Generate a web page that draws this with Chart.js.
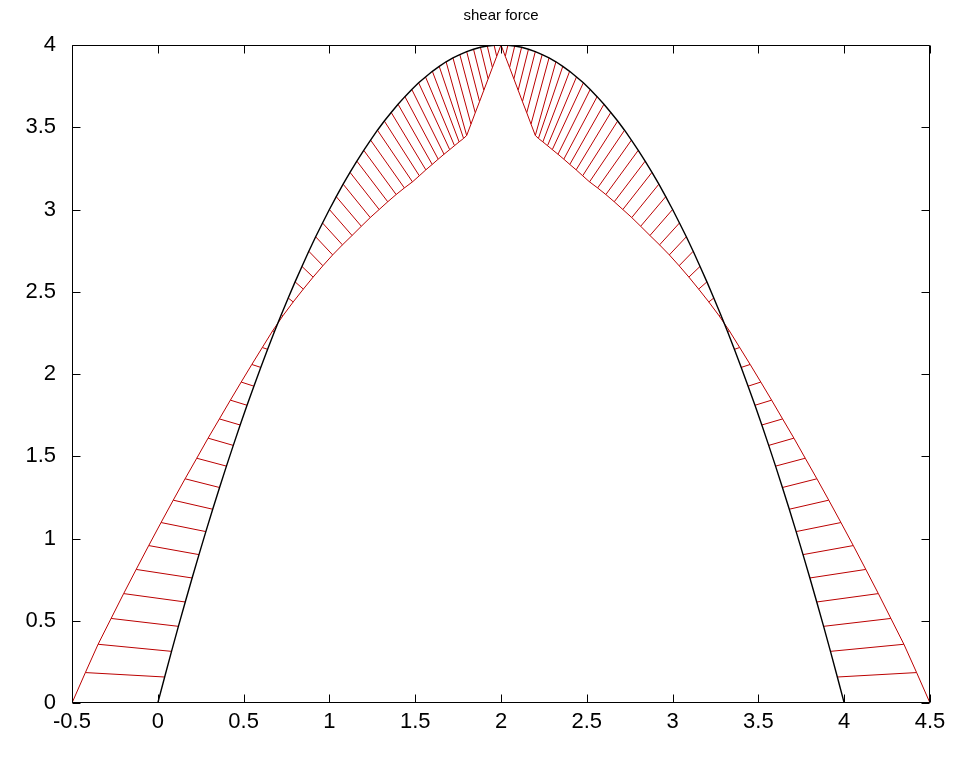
<!DOCTYPE html>
<html>
<head>
<meta charset="utf-8">
<script src="https://cdn.jsdelivr.net/npm/chart.js@4.4.1/dist/chart.umd.min.js"></script>
<style>
  html, body { margin: 0; padding: 0; background: #ffffff; }
  #wrap { width: 961px; height: 770px; }
</style>
</head>
<body>
<div id="wrap"><canvas id="c" width="961" height="770"></canvas></div>
<script>
// Title, tick positions and tick labels
const titleText = 'shear force';
const xTickValues = [-0.5, 0, 0.5, 1, 1.5, 2, 2.5, 3, 3.5, 4, 4.5];
const xTickLabels = ['-0.5', '0', '0.5', '1', '1.5', '2', '2.5', '3', '3.5', '4', '4.5'];
const yTickValues = [0, 0.5, 1, 1.5, 2, 2.5, 3, 3.5, 4];
const yTickLabels = ['0', '0.5', '1', '1.5', '2', '2.5', '3', '3.5', '4'];

// Arch axis (black curve): sample points along the arch
const archX = [
  0, 0.04, 0.08, 0.12, 0.16, 0.20, 0.24, 0.28, 0.32, 0.36, 0.40, 0.44, 0.48, 0.52, 0.56, 0.60, 0.64,
  0.68, 0.72, 0.76, 0.80, 0.84, 0.88, 0.92, 0.96, 1.00, 1.04, 1.08, 1.12, 1.16, 1.20, 1.24, 1.28,
  1.32, 1.36, 1.40, 1.44, 1.48, 1.52, 1.56, 1.60, 1.64, 1.68, 1.72, 1.76, 1.80, 1.84, 1.88, 1.92,
  1.96, 2.00,
  2.04, 2.08, 2.12, 2.16, 2.20, 2.24, 2.28, 2.32, 2.36, 2.40, 2.44, 2.48, 2.52, 2.56, 2.60, 2.64,
  2.68, 2.72, 2.76, 2.80, 2.84, 2.88, 2.92, 2.96, 3.00, 3.04, 3.08, 3.12, 3.16, 3.20, 3.24, 3.28,
  3.32, 3.36, 3.40, 3.44, 3.48, 3.52, 3.56, 3.60, 3.64, 3.68, 3.72, 3.76, 3.80, 3.84, 3.88, 3.92,
  3.96, 4.00
];
const archY = [
  0, 0.158, 0.314, 0.466, 0.614, 0.760, 0.902, 1.042, 1.178, 1.310, 1.440, 1.566, 1.690, 1.810,
  1.926, 2.040, 2.150, 2.258, 2.362, 2.462, 2.560, 2.654, 2.746, 2.834, 2.918, 3.000, 3.078, 3.154,
  3.226, 3.294, 3.360, 3.422, 3.482, 3.538, 3.590, 3.640, 3.686, 3.730, 3.770, 3.806, 3.840, 3.870,
  3.898, 3.922, 3.942, 3.960, 3.974, 3.986, 3.994, 3.998, 4.000,
  3.998, 3.994, 3.986, 3.974, 3.960, 3.942, 3.922, 3.898, 3.870, 3.840, 3.806, 3.770, 3.730, 3.686,
  3.640, 3.590, 3.538, 3.482, 3.422, 3.360, 3.294, 3.226, 3.154, 3.078, 3.000, 2.918, 2.834, 2.746,
  2.654, 2.560, 2.462, 2.362, 2.258, 2.150, 2.040, 1.926, 1.810, 1.690, 1.566, 1.440, 1.310, 1.178,
  1.042, 0.902, 0.760, 0.614, 0.466, 0.314, 0.158, 0
];

// Shear force diagram (red curve): one point per arch sample
const shearX = [
  -0.500, -0.422, -0.348, -0.272, -0.199, -0.126, -0.053, 0.019, 0.090, 0.159, 0.227, 0.293, 0.359,
  0.423, 0.486, 0.548, 0.609, 0.669, 0.729, 0.789, 0.848, 0.905, 0.962, 1.019, 1.076, 1.132, 1.186,
  1.238, 1.290, 1.340, 1.389, 1.437, 1.484, 1.524, 1.562, 1.599, 1.634, 1.668, 1.701, 1.729, 1.756,
  1.782, 1.800, 1.825, 1.850, 1.875, 1.900, 1.925, 1.950, 1.975, 2.000,
  2.025, 2.050, 2.075, 2.100, 2.125, 2.150, 2.175, 2.200, 2.218, 2.244, 2.271, 2.299, 2.332, 2.366,
  2.401, 2.438, 2.476, 2.516, 2.563, 2.611, 2.660, 2.710, 2.762, 2.814, 2.868, 2.924, 2.981, 3.038,
  3.095, 3.152, 3.211, 3.271, 3.331, 3.391, 3.452, 3.514, 3.577, 3.641, 3.707, 3.773, 3.841, 3.910,
  3.981, 4.053, 4.126, 4.199, 4.272, 4.348, 4.422, 4.500
];
const shearY = [
  0, 0.185, 0.357, 0.514, 0.665, 0.812, 0.957, 1.097, 1.233, 1.363, 1.488, 1.610, 1.727, 1.841,
  1.951, 2.058, 2.161, 2.262, 2.354, 2.438, 2.516, 2.589, 2.658, 2.724, 2.785, 2.842, 2.898, 2.951,
  3.000, 3.047, 3.091, 3.131, 3.168, 3.205, 3.241, 3.274, 3.306, 3.336, 3.364, 3.388, 3.411, 3.432,
  3.450, 3.519, 3.588, 3.656, 3.725, 3.794, 3.863, 3.931, 4.000,
  3.931, 3.863, 3.794, 3.725, 3.656, 3.588, 3.519, 3.450, 3.432, 3.411, 3.388, 3.364, 3.336, 3.306,
  3.274, 3.241, 3.205, 3.168, 3.131, 3.091, 3.047, 3.000, 2.951, 2.898, 2.842, 2.785, 2.724, 2.658,
  2.589, 2.516, 2.438, 2.354, 2.262, 2.161, 2.058, 1.951, 1.841, 1.727, 1.610, 1.488, 1.363, 1.233,
  1.097, 0.957, 0.812, 0.665, 0.514, 0.357, 0.185, 0
];

// Hatch: a segment from every arch point to its shear point, separated by gaps
const hatch = [];
for (let i = 0; i < archX.length; i++) {
  hatch.push({ x: archX[i], y: archY[i] });
  hatch.push({ x: shearX[i], y: shearY[i] });
  hatch.push({ x: archX[i], y: null });
}
const shearLine = shearX.map((x, i) => ({ x, y: shearY[i] }));
const archLine = archX.map((x, i) => ({ x, y: archY[i] }));

const RED = '#bb0000';
const FONT = 'Liberation Sans, Arial, Helvetica, sans-serif';

// Axes box with inward tick marks on all four sides
const boxTicks = {
  id: 'boxTicks',
  afterDraw(chart) {
    const { ctx, chartArea: a, scales } = chart;
    const L = Math.round(a.left) + 0.5, R = Math.round(a.right) - 0.5;
    const T = Math.round(a.top) + 0.5, B = Math.round(a.bottom) - 0.5;
    const len = 8;
    ctx.save();
    ctx.strokeStyle = '#000';
    ctx.lineWidth = 1;
    ctx.beginPath();
    ctx.rect(L, T, R - L, B - T);
    xTickValues.forEach(v => {
      const px = Math.round(scales.x.getPixelForValue(v)) + 0.5;
      ctx.moveTo(px, B); ctx.lineTo(px, B - len);
      ctx.moveTo(px, T); ctx.lineTo(px, T + len);
    });
    yTickValues.forEach(v => {
      const py = Math.round(scales.y.getPixelForValue(v)) + 0.5;
      ctx.moveTo(L, py); ctx.lineTo(L + len, py);
      ctx.moveTo(R, py); ctx.lineTo(R - len, py);
    });
    ctx.stroke();
    ctx.restore();
  }
};

new Chart(document.getElementById('c'), {
  type: 'scatter',
  data: {
    datasets: [
      { data: hatch, showLine: true, spanGaps: false, borderColor: RED, borderWidth: 1,
        pointRadius: 0, tension: 0, order: 3 },
      { data: shearLine, showLine: true, borderColor: RED, borderWidth: 1,
        pointRadius: 0, tension: 0, order: 2 },
      { data: archLine, showLine: true, borderColor: '#000', borderWidth: 1.4,
        pointRadius: 0, tension: 0, order: 1 }
    ]
  },
  options: {
    responsive: false,
    animation: false,
    devicePixelRatio: 1,
    layout: { padding: { left: 0, right: 31, top: 0, bottom: 0 } },
    plugins: {
      legend: { display: false },
      tooltip: { enabled: false },
      title: {
        display: true,
        text: titleText,
        fullSize: false,
        color: '#000',
        font: { family: FONT, size: 15, weight: 'normal', lineHeight: 1.2 },
        padding: { top: 7, bottom: 20 }
      }
    },
    scales: {
      x: {
        type: 'linear',
        min: -0.5, max: 4.5,
        grid: { display: false, drawTicks: false },
        border: { display: false },
        afterBuildTicks: s => { s.ticks = xTickValues.map(v => ({ value: v })); },
        afterFit: s => { s.height = 67; },
        ticks: { autoSkip: false, maxRotation: 0, padding: 6, color: '#000',
                 font: { family: FONT, size: 22 },
                 callback: (v, i) => xTickLabels[i] }
      },
      y: {
        type: 'linear',
        min: 0, max: 4,
        grid: { display: false, drawTicks: false },
        border: { display: false },
        afterBuildTicks: s => { s.ticks = yTickValues.map(v => ({ value: v })); },
        afterFit: s => { s.width = 72; },
        ticks: { autoSkip: false, padding: 16, color: '#000',
                 font: { family: FONT, size: 22 },
                 callback: (v, i) => yTickLabels[i] }
      }
    }
  },
  plugins: [boxTicks]
});
</script>
</body>
</html>
